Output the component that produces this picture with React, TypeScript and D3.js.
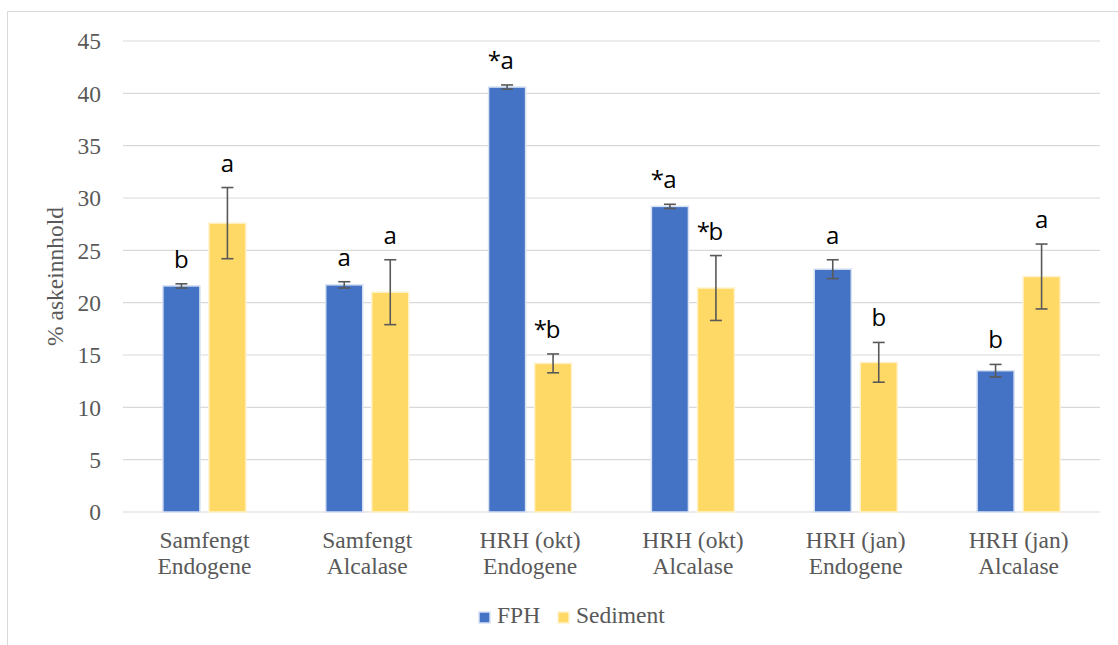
import React from "react";
import * as d3 from "d3";

// Groups shown along the x axis (two-line labels)
const categories = [
  ["Samfengt", "Endogene"],
  ["Samfengt", "Alcalase"],
  ["HRH (okt)", "Endogene"],
  ["HRH (okt)", "Alcalase"],
  ["HRH (jan)", "Endogene"],
  ["HRH (jan)", "Alcalase"],
];

const seriesNames = ["FPH", "Sediment"];

// Ash content (%) per group
const fphValues = [21.6, 21.7, 40.6, 29.2, 23.2, 13.5];
const sedimentValues = [27.6, 21.0, 14.2, 21.4, 14.3, 22.5];

// Standard deviations (error bars)
const fphErrors = [0.2, 0.3, 0.2, 0.2, 0.9, 0.6];
const sedimentErrors = [3.4, 3.1, 0.9, 3.1, 1.9, 3.1];

// Significance letters above each bar
const fphLetters = ["b", "a", "*a", "*a", "a", "b"];
const sedimentLetters = ["a", "a", "*b", "*b", "b", "a"];

const yTicks = [0, 5, 10, 15, 20, 25, 30, 35, 40, 45];

const COLORS = ["#4472C4", "#FFD966"];
const OUTLINES = ["#D6E0F3", "#FFF2CC"];

export default function App() {
  const width = 1118;
  const height = 645;
  const plot = { left: 123, right: 1100, top: 41, bottom: 512 };

  const x = d3
    .scaleBand<number>()
    .domain(d3.range(categories.length))
    .range([plot.left, plot.right]);
  const y = d3.scaleLinear().domain([0, 45]).range([plot.bottom, plot.top]);

  const barW = 37;
  const offset = 23;

  const series = [
    { values: fphValues, errors: fphErrors, letters: fphLetters },
    { values: sedimentValues, errors: sedimentErrors, letters: sedimentLetters },
  ];

  const serif = "'Liberation Serif', 'Times New Roman', serif";
  const sans = "'Open Sans', 'Noto Sans', sans-serif";
  const grey = "#595959";
  const fs = 23.5;

  return (
    <svg
      width={width}
      height={height}
      style={{ position: "absolute", left: 0, top: 0, background: "#fff" }}
    >
      {/* chart frame */}
      <path
        d={`M7.5,${height} V11.5 H${width}`}
        fill="none"
        stroke="#D9D9D9"
        strokeWidth={1}
      />

      {/* gridlines and y tick labels */}
      {yTicks.map((t) => (
        <g key={t}>
          <line
            x1={plot.left}
            x2={plot.right}
            y1={y(t)}
            y2={y(t)}
            stroke="#D9D9D9"
            strokeWidth={1.2}
          />
          <text
            x={101}
            y={y(t)}
            dy="0.35em"
            textAnchor="end"
            fontFamily={serif}
            fontSize={fs}
            fill={grey}
          >
            {t}
          </text>
        </g>
      ))}

      {/* y axis title */}
      <text
        transform={`translate(63,${(plot.top + plot.bottom) / 2}) rotate(-90)`}
        textAnchor="middle"
        fontFamily={serif}
        fontSize={fs}
        fill={grey}
      >
        % askeinnhold
      </text>

      {/* bars, error bars and letters */}
      {series.map((s, si) =>
        s.values.map((v, i) => {
          const cx = x(i)! + x.bandwidth() / 2 + (si === 0 ? -offset : offset);
          const top = y(v + s.errors[i]);
          const bot = y(v - s.errors[i]);
          const letter = s.letters[i];
          const star = letter.startsWith("*");
          const ch = star ? letter.slice(1) : letter;
          const ly = top - 16;
          return (
            <g key={`${si}-${i}`}>
              <rect
                x={cx - barW / 2}
                y={y(v)}
                width={barW}
                height={y(0) - y(v)}
                fill={COLORS[si]}
                stroke={OUTLINES[si]}
                strokeWidth={1.5}
              />
              <g stroke={grey} strokeWidth={1.6}>
                <line x1={cx} x2={cx} y1={top} y2={bot} />
                <line x1={cx - 6} x2={cx + 6} y1={top} y2={top} />
                <line x1={cx - 6} x2={cx + 6} y1={bot} y2={bot} />
              </g>
              <text
                x={cx}
                y={ly}
                textAnchor="middle"
                fontFamily={sans}
                fontSize={24}
                fill="#000"
              >
                {ch}
              </text>
              {star && (
                <text
                  x={cx - 6}
                  y={ly}
                  textAnchor="end"
                  fontFamily={sans}
                  fontSize={24}
                  fill="#000"
                >
                  *
                </text>
              )}
            </g>
          );
        })
      )}

      {/* x category labels */}
      {categories.map((c, i) => (
        <text
          key={i}
          x={x(i)! + x.bandwidth() / 2}
          y={548}
          textAnchor="middle"
          fontFamily={serif}
          fontSize={fs}
          fill={grey}
        >
          <tspan x={x(i)! + x.bandwidth() / 2}>{c[0]}</tspan>
          <tspan x={x(i)! + x.bandwidth() / 2} dy={26}>
            {c[1]}
          </tspan>
        </text>
      ))}

      {/* legend */}
      {seriesNames.map((name, i) => {
        const lx = [479, 558][i];
        return (
          <g key={name}>
            <rect
              x={lx}
              y={612}
              width={11}
              height={11}
              fill={COLORS[i]}
              stroke={OUTLINES[i]}
              strokeWidth={1.5}
            />
            <text
              x={lx + 18}
              y={623}
              fontFamily={serif}
              fontSize={fs}
              fill={grey}
            >
              {name}
            </text>
          </g>
        );
      })}
    </svg>
  );
}
